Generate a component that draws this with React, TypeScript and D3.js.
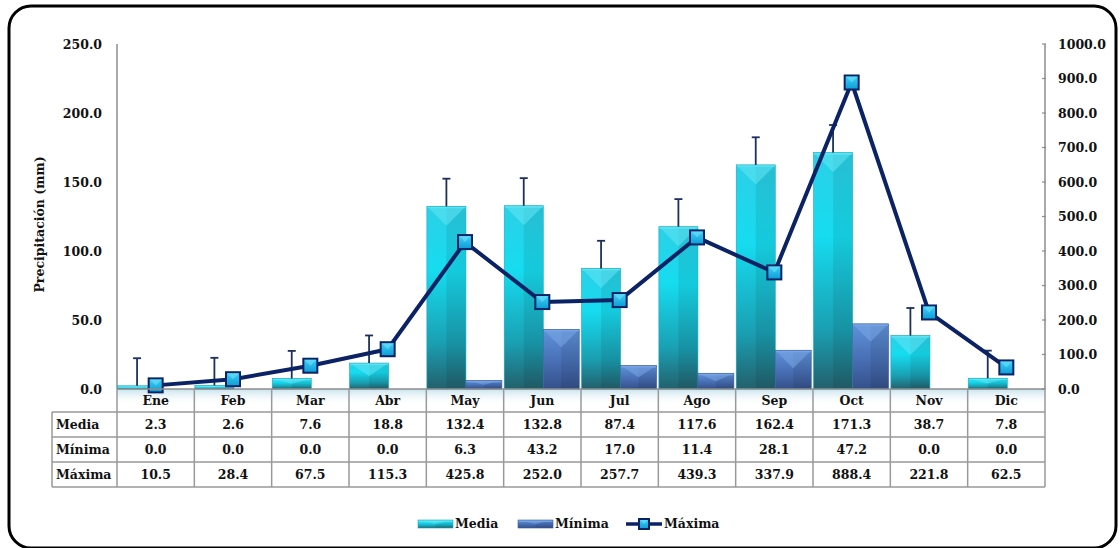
import React from "react";
import * as d3 from "d3";

const months = ["Ene", "Feb", "Mar", "Abr", "May", "Jun", "Jul", "Ago", "Sep", "Oct", "Nov", "Dic"];
const media = [2.3, 2.6, 7.6, 18.8, 132.4, 132.8, 87.4, 117.6, 162.4, 171.3, 38.7, 7.8];
const minima = [0.0, 0.0, 0.0, 0.0, 6.3, 43.2, 17.0, 11.4, 28.1, 47.2, 0.0, 0.0];
const maxima = [10.5, 28.4, 67.5, 115.3, 425.8, 252.0, 257.7, 439.3, 337.9, 888.4, 221.8, 62.5];
const errorBar = 20;
const leftTicks = [0, 50, 100, 150, 200, 250];
const rightTicks = [0, 100, 200, 300, 400, 500, 600, 700, 800, 900, 1000];
const rowLabels = ["Media", "Mínima", "Máxima"];

const FONT = "'DejaVu Serif', serif";
const NAVY = "#0b2265";

function Bar({ x, w, y0, y1, kind }: { x: number; w: number; y0: number; y1: number; kind: string }) {
  const h = y0 - y1;
  if (h <= 0) return null;
  const d = Math.min(w / 2, h / 2, 20);
  const top = kind === "media" ? "#62e6f5" : "#7aa6e6";
  return (
    <g>
      <rect x={x} y={y1} width={w} height={h} fill={`url(#grad-${kind})`} />
      <rect x={x + w / 2} y={y1} width={w / 2} height={h} fill="#000" opacity={0.08} />
      <polygon points={`${x},${y1} ${x + w},${y1} ${x + w / 2},${y1 + d}`} fill={top} opacity={0.55} />
      <rect x={x} y={y1} width={w} height={Math.min(2, h)} fill={top} opacity={0.8} />
      <rect x={x} y={y1} width={w} height={h} fill="none" stroke={kind === "media" ? "#1aa9bd" : "#3d5d99"} strokeWidth={0.6} />
    </g>
  );
}

function Marker({ cx, cy, s }: { cx: number; cy: number; s: number }) {
  return (
    <g>
      <rect x={cx - s / 2} y={cy - s / 2} width={s} height={s} fill="url(#grad-marker)" stroke={NAVY} strokeWidth={2} />
      <polygon points={`${cx - s / 2 + 1},${cy - s / 2 + 1} ${cx + s / 2 - 1},${cy - s / 2 + 1} ${cx},${cy}`} fill="#6fe0fa" opacity={0.6} />
    </g>
  );
}

export default function App() {
  const left = 117;
  const right = 1045;
  const top = 44;
  const base = 389;
  const x = d3.scaleBand<string>().domain(months).range([left, right]).padding(0);
  const yL = d3.scaleLinear().domain([0, 250]).range([base, top]);
  const yR = d3.scaleLinear().domain([0, 1000]).range([base, top]);
  const bw = x.bandwidth();
  const mediaX = (m: string) => (x(m) as number) + bw * 0.007;
  const mediaW = bw * 0.505;
  const minX = (m: string) => (x(m) as number) + bw * 0.512;
  const minW = bw * 0.465;
  const cx = (m: string) => (x(m) as number) + bw / 2;

  const line = d3
    .line<number>()
    .x((_, i) => cx(months[i]))
    .y((v) => yR(v));

  const rowY = [412, 437, 462, 487];
  const tableLeft = 52;
  const rowsData = [media, minima, maxima];

  return (
    <svg width={1120} height={548} style={{ position: "absolute", left: 0, top: 0, background: "#fff" }} fontFamily={FONT}>
      <defs>
        <linearGradient id="grad-media" x1="0" y1="0" x2="0" y2="1">
          <stop offset="0" stopColor="#2ccfe6" />
          <stop offset="0.35" stopColor="#16dcf0" />
          <stop offset="0.75" stopColor="#1a9fb2" />
          <stop offset="1" stopColor="#23606c" />
        </linearGradient>
        <linearGradient id="grad-minima" x1="0" y1="0" x2="0" y2="1">
          <stop offset="0" stopColor="#5f93da" />
          <stop offset="0.5" stopColor="#4a72b8" />
          <stop offset="1" stopColor="#34508a" />
        </linearGradient>
        <linearGradient id="grad-marker" x1="0" y1="0" x2="0" y2="1">
          <stop offset="0" stopColor="#3fd2f6" />
          <stop offset="1" stopColor="#0c9cd6" />
        </linearGradient>
        <linearGradient id="grad-header" x1="0" y1="0" x2="0" y2="1">
          <stop offset="0" stopColor="#c6e2ec" />
          <stop offset="1" stopColor="#ffffff" stopOpacity={0} />
        </linearGradient>
      </defs>

      <rect x={9} y={6} width={1107} height={542} rx={22} fill="#fff" stroke="#000" strokeWidth={3} />

      {/* header shadow */}
      <rect x={left} y={base} width={right - left} height={16} fill="url(#grad-header)" />

      {/* axes */}
      <line x1={left} x2={left} y1={top} y2={base} stroke="#8c8c8c" strokeWidth={1.5} />
      <line x1={right} x2={right} y1={top} y2={base} stroke="#8c8c8c" strokeWidth={1.5} />
      {leftTicks.map((t) => (
        <text key={"l" + t} x={102} y={yL(t) + 4.5} textAnchor="end" fontSize={12.5} fontWeight="bold" fill="#111">
          {t.toFixed(1)}
        </text>
      ))}
      {rightTicks.map((t) => (
        <g key={"r" + t}>
          <line x1={right - 3} x2={right + 1} y1={yR(t)} y2={yR(t)} stroke="#8c8c8c" strokeWidth={1.2} />
          <text x={1058} y={yR(t) + 4.5} textAnchor="start" fontSize={12.5} fontWeight="bold" fill="#111">
            {t.toFixed(1)}
          </text>
        </g>
      ))}
      <text
        transform={`translate(44,${(top + base) / 2 + 8}) rotate(-90)`}
        textAnchor="middle"
        fontSize={12.5}
        fontWeight="bold"
        fill="#111"
      >
        Precipitación (mm)
      </text>

      {/* bars */}
      {months.map((m, i) => (
        <g key={"b" + m}>
          <Bar x={mediaX(m)} w={mediaW} y0={yL(0)} y1={yL(media[i])} kind="media" />
          <Bar x={minX(m)} w={minW} y0={yL(0)} y1={yL(minima[i])} kind="minima" />
        </g>
      ))}

      {/* error bars */}
      {months.map((m, i) => {
        const ex = mediaX(m) + mediaW / 2;
        return (
          <g key={"e" + m} stroke="#1d2f5c" strokeWidth={1.8}>
            <line x1={ex} x2={ex} y1={yL(media[i])} y2={yL(media[i] + errorBar)} />
            <line x1={ex - 4} x2={ex + 4} y1={yL(media[i] + errorBar)} y2={yL(media[i] + errorBar)} />
          </g>
        );
      })}

      {/* line */}
      <path d={line(maxima) || ""} fill="none" stroke={NAVY} strokeWidth={4} strokeLinejoin="round" />
      {months.map((m, i) => (
        <Marker key={"mk" + m} cx={cx(m)} cy={yR(maxima[i])} s={14} />
      ))}

      {/* axis base line */}
      <line x1={left} x2={right} y1={base} y2={base} stroke="#8c8c8c" strokeWidth={1.5} />

      {/* table */}
      <g stroke="#999" strokeWidth={1.5}>
        {rowY.map((yy, i) => (
          <line key={"h" + i} x1={i === 0 ? tableLeft : tableLeft} x2={right} y1={yy} y2={yy} />
        ))}
        <line x1={tableLeft} x2={tableLeft} y1={rowY[0]} y2={rowY[3]} />
        {months.map((m) => (
          <line key={"v" + m} x1={x(m) as number} x2={x(m) as number} y1={base} y2={rowY[3]} />
        ))}
        <line x1={right} x2={right} y1={base} y2={rowY[3]} />
      </g>
      {months.map((m) => (
        <text key={"c" + m} x={cx(m)} y={base + 16} textAnchor="middle" fontSize={12.5} fontWeight="bold" fill="#111">
          {m}
        </text>
      ))}
      {rowLabels.map((r, ri) => (
        <g key={"row" + r}>
          <text x={56} y={rowY[ri] + 17} fontSize={12.5} fontWeight="bold" fill="#111">
            {r}
          </text>
          {months.map((m, i) => (
            <text key={m} x={cx(m)} y={rowY[ri] + 17} textAnchor="middle" fontSize={12.5} fontWeight="bold" fill="#111">
              {rowsData[ri][i].toFixed(1)}
            </text>
          ))}
        </g>
      ))}

      {/* legend */}
      <g>
        <Bar x={418} w={35} y0={528} y1={520} kind="media" />
        <text x={455} y={528} fontSize={12.5} fontWeight="bold" fill="#111">Media</text>
        <Bar x={518} w={35} y0={528} y1={520} kind="minima" />
        <text x={555} y={528} fontSize={12.5} fontWeight="bold" fill="#111">Mínima</text>
        <line x1={626} x2={662} y1={524} y2={524} stroke={NAVY} strokeWidth={3.5} />
        <Marker cx={644} cy={524} s={10} />
        <text x={664} y={528} fontSize={12.5} fontWeight="bold" fill="#111">Máxima</text>
      </g>
    </svg>
  );
}
